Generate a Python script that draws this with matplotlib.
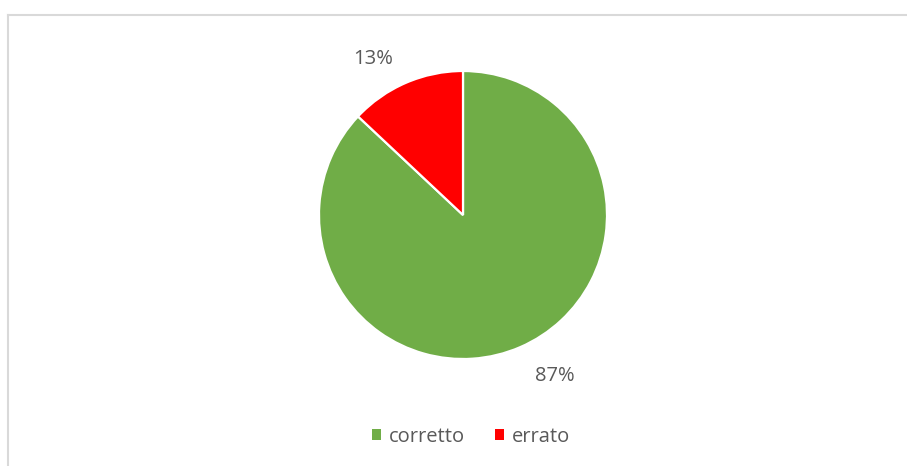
import matplotlib
matplotlib.use("Agg")
import matplotlib.pyplot as plt
from matplotlib.lines import Line2D

plt.rcParams["font.family"] = ["Open Sans", "DejaVu Sans"]

labels = ["corretto", "errato"]
shares = [87, 13]
colors = ["#70ad47", "#ff0000"]
TEXT = "#595959"

W, H = 907, 466
fig = plt.figure(figsize=(W / 100, H / 100), dpi=100)
ax = fig.add_axes([0, 0, 1, 1])

wedges, _, pct = ax.pie(shares, colors=colors, startangle=90, counterclock=False,
                        center=(463, H - 215), radius=144,
                        autopct="%1.0f%%", pctdistance=1.27,
                        wedgeprops=dict(edgecolor="white", linewidth=1.6),
                        textprops=dict(color=TEXT, fontsize=14.5))
ax.set_xlim(0, W)
ax.set_ylim(0, H)
ax.set_aspect("auto")
ax.axis("off")

# outside-end labels
pct[0].set_position((555, H - 376))
pct[1].set_position((373, H - 59))

# chart area border: only the top and left edges fall inside the image
border = dict(color="#d9d9d9", linewidth=1.5, transform=fig.transFigure)
fig.lines.append(Line2D([7.5 / W, 7.5 / W], [0, 1 - 14.5 / H], **border))
fig.lines.append(Line2D([7.5 / W, 1], [1 - 14.5 / H, 1 - 14.5 / H], **border))

ax.legend(wedges, labels, loc="center", bbox_to_anchor=(471 / W, 1 - 437 / H),
          ncol=2, frameon=False, fontsize=14.5, labelcolor=TEXT,
          handlelength=0.45, handleheight=0.45, handletextpad=0.4,
          columnspacing=1.5)
for h in ax.get_legend().legend_handles:
    h.set_edgecolor("none")

fig.savefig("out.png", dpi=100)
